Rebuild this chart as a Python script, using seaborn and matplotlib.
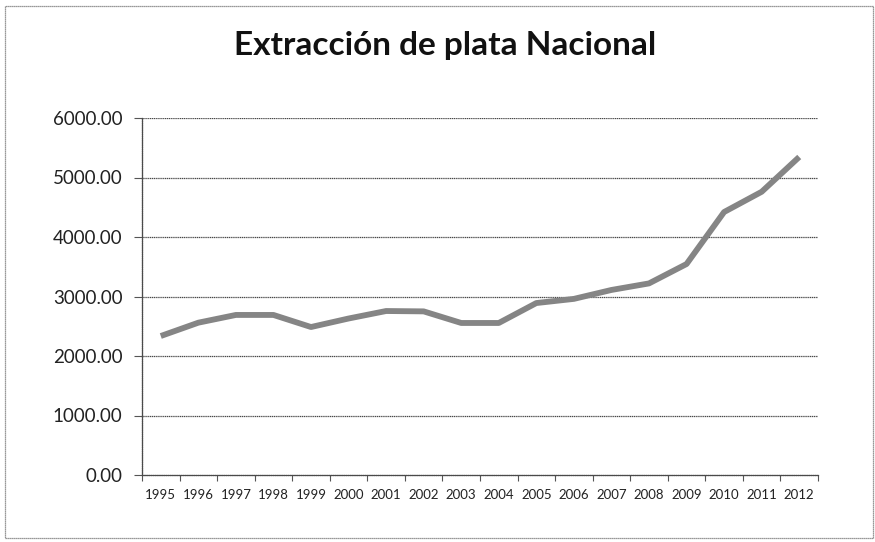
import matplotlib
matplotlib.use("Agg")
import matplotlib.pyplot as plt
import seaborn as sns
import numpy as np
from matplotlib.patches import Rectangle
from matplotlib.ticker import FixedLocator, FuncFormatter

years = [1995, 1996, 1997, 1998, 1999, 2000, 2001, 2002, 2003, 2004,
         2005, 2006, 2007, 2008, 2009, 2010, 2011, 2012]
values = [2336, 2560, 2690, 2690, 2487, 2630, 2756, 2750, 2555, 2555,
          2890, 2960, 3110, 3220, 3546, 4420, 4760, 5345]
yticks = [0, 1000, 2000, 3000, 4000, 5000, 6000]
title = "Extracción de plata Nacional"

sns.set_theme(style="white")
plt.rcParams['font.family'] = ['Lato', 'DejaVu Sans']

fig = plt.figure(figsize=(8.75, 5.42), dpi=100)
ax = fig.add_axes([142/875, 1-475/542, (818-142)/875, (475-118)/542])

pos = np.arange(len(years))
sns.lineplot(x=pos, y=values, ax=ax, color="#858585", linewidth=4.2,
             solid_capstyle="butt", solid_joinstyle="round")

ax.set_xlim(-0.5, len(years) - 0.5)
ax.set_ylim(0, 6000)
ax.set_yticks(yticks)
ax.yaxis.set_major_formatter(FuncFormatter(lambda v, p: f"{v:.2f}"))
ax.set_xticks(pos)
ax.set_xticklabels([str(y) for y in years])
ax.xaxis.set_minor_locator(FixedLocator(np.arange(-0.5, len(years), 1.0)))
ax.tick_params(axis='x', which='major', length=0, labelsize=9.5, pad=10, colors='#222222')
ax.tick_params(axis='x', which='minor', length=4, width=0.8, color='#555555', direction='out', bottom=True)
ax.tick_params(axis='y', which='major', length=6, width=0.8, color='#555555', direction='out',
               left=True, labelsize=13.5, pad=8, labelcolor='#222222')

for y in yticks[1:]:
    ax.axhline(y, color="#4a4a4a", linewidth=0.9, linestyle=(0, (1, 0.5)), zorder=0)

for s in ['top', 'right']:
    ax.spines[s].set_visible(False)
for s in ['left', 'bottom']:
    ax.spines[s].set_color('#4a4a4a')
    ax.spines[s].set_linewidth(0.9)
    ax.spines[s].set_linestyle((0, (1, 0.5)))

ax.set_xlabel("")
ax.set_ylabel("")

fig.text(445/875, 1-46/542, title, ha='center', va='center', fontsize=24, fontweight='bold', color='#111111')

fig.patches.append(Rectangle((5/875, 4/542), 868/875, 532/542, transform=fig.transFigure,
                             fill=False, edgecolor='#777777', linewidth=0.9, linestyle=(0, (1, 0.6))))

fig.savefig("out.png", dpi=100, facecolor='white')
